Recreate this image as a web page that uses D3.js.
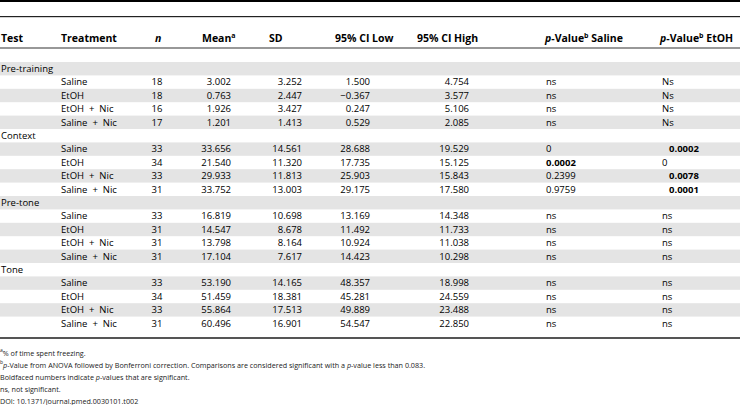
<!DOCTYPE html>
<html><head><meta charset="utf-8">
<script src="https://cdn.jsdelivr.net/npm/d3@7"></script>
<style>body{margin:0;background:#fff}svg{display:block}text{font-family:"Open Sans",sans-serif}</style>
</head><body><svg id="c" width="740" height="405"></svg>
<script>
const tests = ["Pre-training","Context","Pre-tone","Tone"];
const treatments = ["Saline","EtOH","EtOH + Nic","Saline + Nic"];
const nVals = [[18,18,16,17],[33,34,33,31],[33,31,31,31],[33,34,33,31]];
const means = [[3.002,0.763,1.926,1.201],[33.656,21.540,29.933,33.752],[16.819,14.547,13.798,17.104],[53.190,51.459,55.864,60.496]];
const sds = [[3.252,2.447,3.427,1.413],[14.561,11.320,11.813,13.003],[10.698,8.678,8.164,7.617],[14.165,18.381,17.513,16.901]];
const ciLow = [[1.500,-0.367,0.247,0.529],[28.688,17.735,25.903,29.175],[13.169,11.492,10.924,14.423],[48.357,45.281,49.889,54.547]];
const ciHigh = [[4.754,3.577,5.106,2.085],[19.529,15.125,15.843,17.580],[14.348,11.733,11.038,10.298],[18.998,24.559,23.488,22.850]];
const pSaline = [["ns","ns","ns","ns"],["0","0.0002","0.2399","0.9759"],["ns","ns","ns","ns"],["ns","ns","ns","ns"]];
const pEtOH = [["Ns","Ns","Ns","Ns"],["0.0002","0","0.0078","0.0001"],["ns","ns","ns","ns"],["ns","ns","ns","ns"]];
const boldSaline = [[0,0,0,0],[0,1,0,0],[0,0,0,0],[0,0,0,0]];
const boldEtOH = [[0,0,0,0],[1,0,1,1],[0,0,0,0],[0,0,0,0]];
const footnotes = [
  [{t:"a",sup:1},{t:"% of time spent freezing."}],
  [{t:"b",sup:1},{t:"p",it:1},{t:"-Value from ANOVA followed by Bonferroni correction. Comparisons are considered significant with a "},{t:"p",it:1},{t:"-value less than 0.083."}],
  [{t:"Boldfaced numbers indicate "},{t:"p",it:1},{t:"-values that are significant."}],
  [{t:"ns, not significant."}],
  [{t:"DOI: 10.1371/journal.pmed.0030101.t002"}]
];

const W = 740;
const svg = d3.select("#c");
const fmt = d3.format(".3f");

const rows = [];
tests.forEach((t, g) => {
  rows.push({type:"group", label:t});
  treatments.forEach((tr, i) => rows.push({type:"data", g, i, tr}));
});

const y = d3.scaleLinear().domain([0, rows.length]).range([62, 62 + 13.4 * rows.length]);
const rh = y(1) - y(0);

svg.append("g").selectAll("rect").data(rows.map((r,k)=>k).filter(k=>k%2===0)).join("rect")
  .attr("x",0).attr("width",W).attr("y",k=>y(k)).attr("height",rh).attr("fill","#e4e4e4");

svg.append("rect").attr("x",0).attr("y",0).attr("width",W).attr("height",2).attr("fill","#000");
svg.append("rect").attr("x",0).attr("y",16).attr("width",W).attr("height",1.2).attr("fill","#222");
svg.append("rect").attr("x",0).attr("y",47.5).attr("width",W).attr("height",1).attr("fill","#333");
svg.append("rect").attr("x",0).attr("y",337).attr("width",W).attr("height",2).attr("fill","#555");

const hdr = svg.append("g").attr("font-size",10.5).attr("font-weight","bold").attr("fill","#000");
const hy = 41.5;
const headers = [
  {x:1, parts:[{t:"Test"}]},
  {x:61, parts:[{t:"Treatment"}]},
  {x:155, parts:[{t:"n",it:1}]},
  {x:202, parts:[{t:"Mean"},{t:"a",sup:1}]},
  {x:269, parts:[{t:"SD"}]},
  {x:335, parts:[{t:"95% CI Low"}]},
  {x:417, parts:[{t:"95% CI High"}]},
  {x:545, parts:[{t:"p",it:1},{t:"-Value"},{t:"b",sup:1},{t:" Saline"}]},
  {x:660, parts:[{t:"p",it:1},{t:"-Value"},{t:"b",sup:1},{t:" EtOH"}]}
];
function addParts(sel, parts, supSize){
  parts.forEach((p, idx) => {
    const ts = sel.append("tspan").text(p.t);
    if (p.it) ts.attr("font-style","italic");
    if (p.sup) ts.attr("font-size",supSize).attr("dy",-4);
    else if (idx > 0 && parts[idx-1].sup) ts.attr("dy",4);
  });
}
headers.forEach(h => {
  const t = hdr.append("text").attr("x",h.x).attr("y",hy).attr("xml:space","preserve");
  addParts(t, h.parts, 7);
});

const body = svg.append("g").attr("font-size",9.5).attr("fill","#000");
const ty = k => y(k) + rh/2 + 3.3;
rows.forEach((r,k) => {
  if (r.type === "group") {
    body.append("text").attr("x",1).attr("y",ty(k)).text(r.label);
    return;
  }
  const {g,i} = r;
  body.append("text").attr("x",61).attr("y",ty(k)).attr("xml:space","preserve").text(r.tr.replace(" + ", "  +  "));
  body.append("text").attr("x",157).attr("y",ty(k)).attr("text-anchor","middle").text(nVals[g][i]);
  body.append("text").attr("x",231).attr("y",ty(k)).attr("text-anchor","end").text(fmt(means[g][i]));
  body.append("text").attr("x",302).attr("y",ty(k)).attr("text-anchor","end").text(fmt(sds[g][i]));
  body.append("text").attr("x",370).attr("y",ty(k)).attr("text-anchor","end").text(fmt(ciLow[g][i]));
  body.append("text").attr("x",469).attr("y",ty(k)).attr("text-anchor","end").text(fmt(ciHigh[g][i]));
  body.append("text").attr("x",546).attr("y",ty(k)).attr("font-weight",boldSaline[g][i]?"bold":null).text(pSaline[g][i]);
  body.append("text").attr("x",boldEtOH[g][i]?669:662).attr("y",ty(k)).attr("font-weight",boldEtOH[g][i]?"bold":null).text(pEtOH[g][i]);
});

const fn = svg.append("g").attr("font-size",7.2).attr("fill","#222");
footnotes.forEach((parts, j) => {
  const t = fn.append("text").attr("x",0).attr("y",355.5 + j*12).attr("xml:space","preserve");
  addParts(t, parts, 5);
});
</script></body></html>
